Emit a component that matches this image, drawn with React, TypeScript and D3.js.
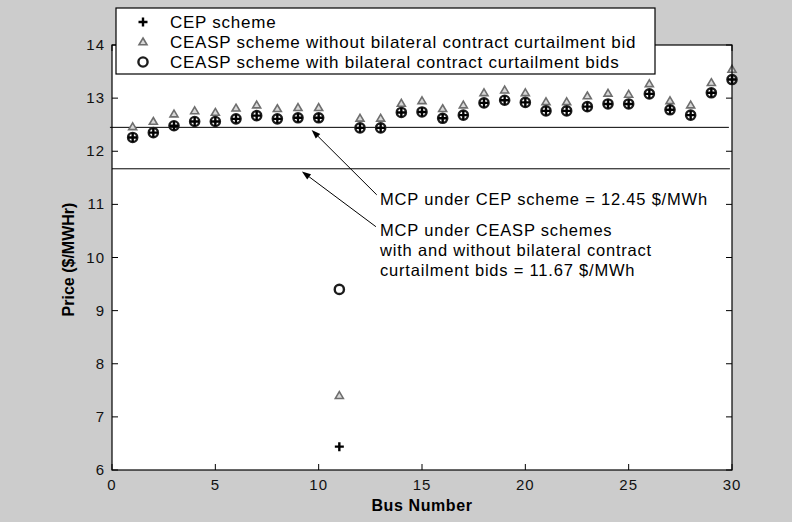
import React from 'react';
import * as d3 from 'd3';

// bus numbers and prices ($/MWh)
const busNumbers = [1, 2, 3, 4, 5, 6, 7, 8, 9, 10, 11, 12, 13, 14, 15, 16, 17, 18, 19, 20, 21, 22, 23, 24, 25, 26, 27, 28, 29, 30];
const cepPrices = [12.26, 12.35, 12.48, 12.56, 12.56, 12.61, 12.67, 12.61, 12.63, 12.63, 6.44, 12.44, 12.44, 12.73, 12.74, 12.62, 12.68, 12.91, 12.96, 12.92, 12.76, 12.76, 12.84, 12.89, 12.89, 13.08, 12.78, 12.68, 13.10, 13.35];
const ceaspNoBidPrices = [12.46, 12.56, 12.70, 12.76, 12.73, 12.81, 12.87, 12.80, 12.82, 12.82, 7.40, 12.62, 12.62, 12.90, 12.95, 12.80, 12.87, 13.10, 13.15, 13.10, 12.93, 12.93, 13.04, 13.09, 13.07, 13.27, 12.95, 12.87, 13.29, 13.54];
const ceaspBidPrices = [12.26, 12.35, 12.48, 12.56, 12.56, 12.61, 12.67, 12.61, 12.63, 12.63, 9.40, 12.44, 12.44, 12.73, 12.74, 12.62, 12.68, 12.91, 12.96, 12.92, 12.76, 12.76, 12.84, 12.89, 12.89, 13.08, 12.78, 12.68, 13.10, 13.35];

const xTicks = [0, 5, 10, 15, 20, 25, 30];
const yTicks = [6, 7, 8, 9, 10, 11, 12, 13, 14];

const mcpCep = 12.45;
const mcpCeasp = 11.67;

const legendLabels = [
  'CEP scheme',
  'CEASP scheme without bilateral contract curtailment bid',
  'CEASP scheme with bilateral contract curtailment bids',
];

const W = 792;
const H = 522;
const margin = { left: 112, right: 60, top: 45, bottom: 52 };
const FONT = 'Liberation Sans, Arial, sans-serif';

const Plus = ({ x, y }: { x: number; y: number }) => (
  <path d={`M${x - 4.5},${y}H${x + 4.5}M${x},${y - 4.5}V${y + 4.5}`} stroke="#000" strokeWidth={2.4} fill="none" />
);
const Tri = ({ x, y }: { x: number; y: number }) => (
  <path d={`M${x},${y - 4}L${x + 4},${y + 2.8}L${x - 4},${y + 2.8}Z`} stroke="#6e6e6e" strokeWidth={1.6} fill="#d8d8d8" />
);
const Ring = ({ x, y }: { x: number; y: number }) => (
  <circle cx={x} cy={y} r={4.6} stroke="#1c1c1c" strokeWidth={2.4} fill="none" />
);

export default function App() {
  const x = d3.scaleLinear().domain([0, 30]).range([margin.left, W - margin.right]);
  const y = d3.scaleLinear().domain([6, 14]).range([H - margin.bottom, margin.top]);
  const [x0, x1] = x.range();
  const [y0, y1] = y.range();

  const notes = [
    { head: [9.66, 12.4], tail: [12.81, 11.18] },
    { head: [9.19, 11.62], tail: [12.77, 10.58] },
  ];

  const arrow = (h: number[], t: number[], i: number) => {
    const hx = x(h[0]), hy = y(h[1]), tx = x(t[0]), ty = y(t[1]);
    const ang = Math.atan2(hy - ty, hx - tx);
    const L = 9, Wd = 3.2;
    const bx = hx - L * Math.cos(ang), by = hy - L * Math.sin(ang);
    const px = -Math.sin(ang) * Wd, py = Math.cos(ang) * Wd;
    return (
      <g key={i}>
        <line x1={tx} y1={ty} x2={bx} y2={by} stroke="#000" strokeWidth={1} />
        <path d={`M${hx},${hy}L${bx + px},${by + py}L${bx - px},${by - py}Z`} fill="#000" />
      </g>
    );
  };

  return (
    <div style={{ position: 'fixed', left: 0, top: 0 }}>
      <svg width={W} height={H} viewBox={`0 0 ${W} ${H}`} style={{ display: 'block', fontFamily: FONT }}>
        <rect width={W} height={H} fill="#cccccc" />
        <rect x={x0} y={y1} width={x1 - x0} height={y0 - y1} fill="#fff" />

        {/* MCP reference lines */}
        <line x1={x(-0.1)} x2={x(29.85)} y1={y(mcpCep)} y2={y(mcpCep)} stroke="#000" strokeWidth={1} />
        <line x1={x(0)} x2={x(29.9)} y1={y(mcpCeasp)} y2={y(mcpCeasp)} stroke="#000" strokeWidth={1} />

        {/* markers */}
        {busNumbers.map((b, i) => <Tri key={'t' + b} x={x(b)} y={y(ceaspNoBidPrices[i])} />)}
        {busNumbers.map((b, i) => <Ring key={'c' + b} x={x(b)} y={y(ceaspBidPrices[i])} />)}
        {busNumbers.map((b, i) => <Plus key={'p' + b} x={x(b)} y={y(cepPrices[i])} />)}

        {/* axes box and ticks */}
        <rect x={x0} y={y1} width={x1 - x0} height={y0 - y1} fill="none" stroke="#000" strokeWidth={1.2} />
        {xTicks.map(t => (
          <g key={'xt' + t}>
            <line x1={x(t)} x2={x(t)} y1={y0} y2={y0 - 6} stroke="#000" />
            <line x1={x(t)} x2={x(t)} y1={y1} y2={y1 + 6} stroke="#000" />
            <text x={x(t)} y={y0 + 20} textAnchor="middle" fontSize={15} letterSpacing={1} fill="#111">{t}</text>
          </g>
        ))}
        {yTicks.map(t => (
          <g key={'yt' + t}>
            <line x1={x0} x2={x0 + 6} y1={y(t)} y2={y(t)} stroke="#000" />
            <line x1={x1} x2={x1 - 6} y1={y(t)} y2={y(t)} stroke="#000" />
            <text x={x0 - 7} y={y(t) + 5} textAnchor="end" fontSize={15} letterSpacing={1} fill="#111">{t}</text>
          </g>
        ))}

        <text x={(x0 + x1) / 2} y={H - 11} textAnchor="middle" fontSize={16} fontWeight="bold" letterSpacing={0.6}>Bus Number</text>
        <text transform={`translate(74,${(y0 + y1) / 2 + 2}) rotate(-90)`} textAnchor="middle" fontSize={16} fontWeight="bold">Price ($/MWHr)</text>

        {/* annotations */}
        {notes.map((n, i) => arrow(n.head, n.tail, i))}
        <text x={x(12.97)} y={y(11.18) + 10} fontSize={16.5} letterSpacing={0.8}>MCP under CEP scheme = 12.45 $/MWh</text>
        <text x={x(12.97)} fontSize={16.5} letterSpacing={0.8}>
          <tspan x={x(12.97)} y={y(10.58) + 9}>MCP under CEASP schemes</tspan>
          <tspan x={x(12.97)} dy={20}>with and without bilateral contract</tspan>
          <tspan x={x(12.97)} dy={20}>curtailment bids = 11.67 $/MWh</tspan>
        </text>

        {/* legend */}
        <g>
          <rect x={116} y={8} width={539} height={66} fill="#fff" stroke="#000" strokeWidth={1.2} />
          {legendLabels.map((lab, i) => {
            const cy = 22 + i * 20;
            return (
              <g key={lab}>
                {i === 0 && <Plus x={143} y={cy} />}
                {i === 1 && <Tri x={143} y={cy} />}
                {i === 2 && <Ring x={143} y={cy} />}
                <text x={170} y={cy + 6} fontSize={17} letterSpacing={0.75}>{lab}</text>
              </g>
            );
          })}
        </g>
      </svg>
    </div>
  );
}
